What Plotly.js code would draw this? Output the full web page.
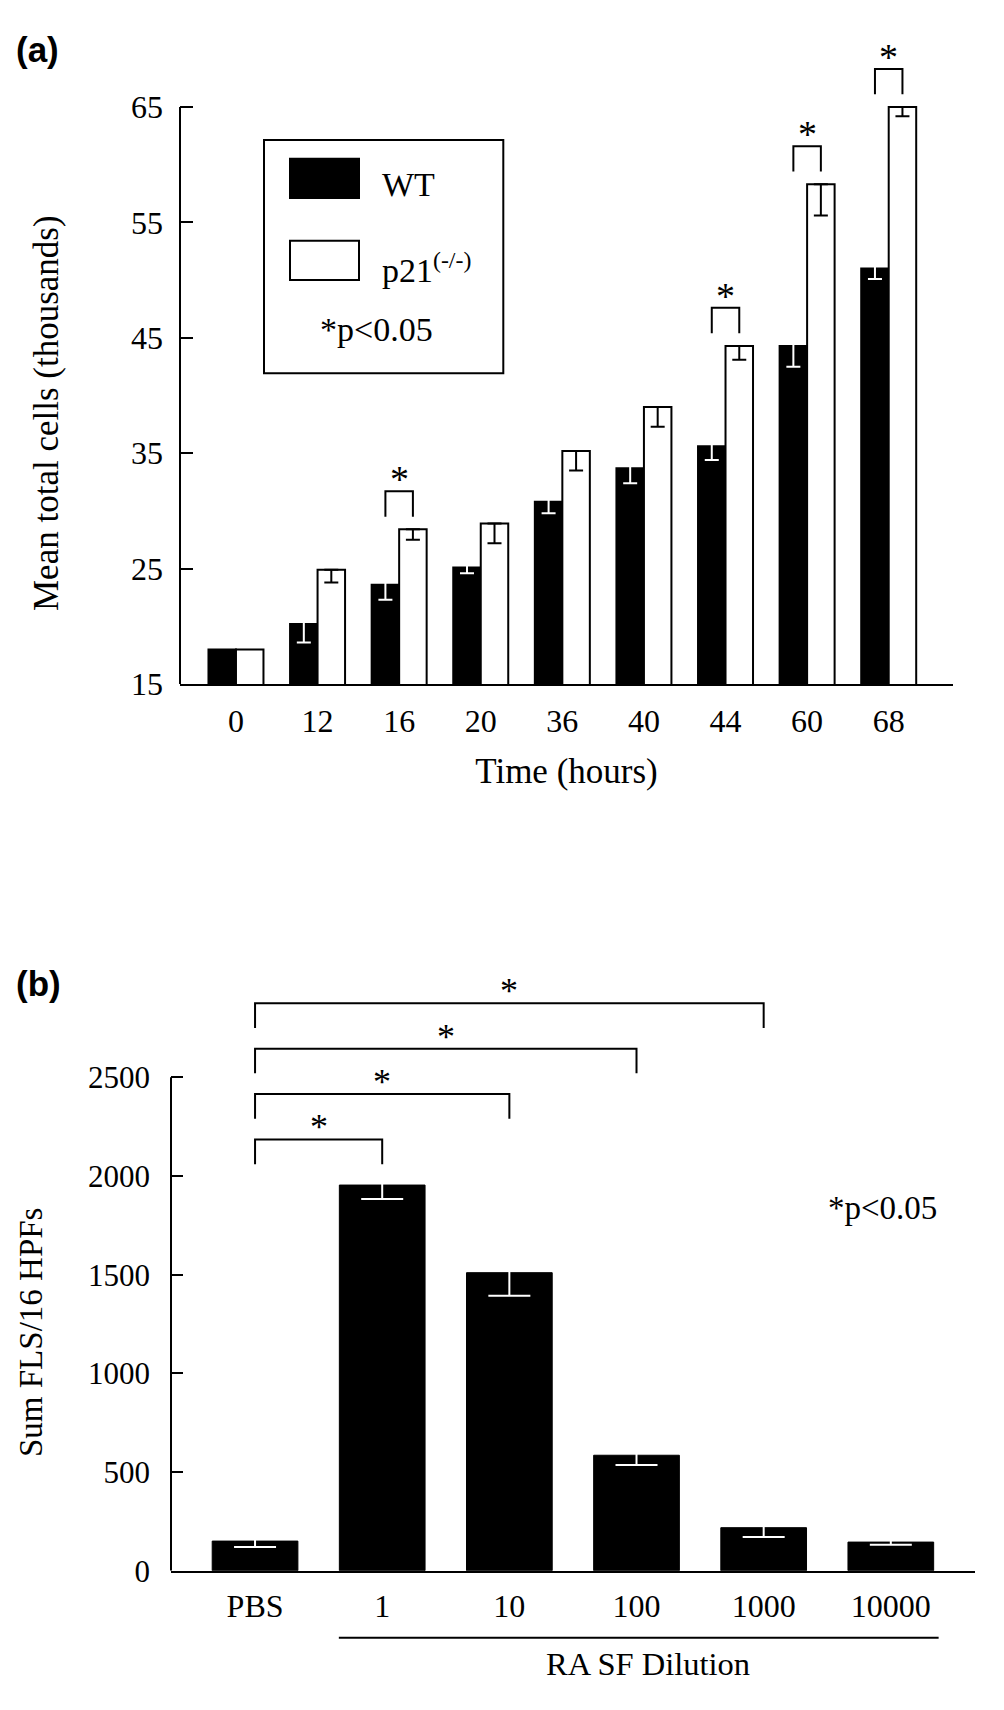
<!DOCTYPE html>
<html><head><meta charset="utf-8">
<script src="https://cdn.plot.ly/plotly-3.0.1.min.js"></script>
<style>html,body{margin:0;padding:0;background:#fff;} #chart{width:1004px;height:1710px;}</style>
</head><body><div id="chart"></div>
<script>
// ---------- Panel (a) data ----------
const timeLabels = ['0','12','16','20','36','40','44','60','68'];
const wtMean  = [18.0, 20.2, 23.6, 25.1, 30.8, 33.7, 35.6, 44.3, 51.0];
const wtErr   = [null, 1.6, 1.3, 0.5, 1.0, 1.3, 1.2, 1.8, 0.9];
const p21Mean = [18.0, 24.9, 28.4, 28.9, 35.2, 39.0, 44.3, 58.3, 65.0];
const p21Err  = [null, 1.1, 0.9, 1.7, 1.7, 1.7, 1.2, 2.7, 0.8];
const sigTimes = ['16','44','60','68'];
const yTicksA = [15,25,35,45,55,65];

// ---------- Panel (b) data ----------
const dilLabels = ['PBS','1','10','100','1000','10000'];
const flsSum = [150, 1954, 1510, 585, 218, 145];
const flsErr = [30, 71, 117, 50, 47, 13];
const sigDil = ['1','10','100','1000'];
const yTicksB = [0,500,1000,1500,2000,2500];

// ---------- geometry (pixels) ----------
const W = 1004, H = 1710;
const fx = p => p / W, fy = p => 1 - p / H;
const SERIF = 'Liberation Serif, Times New Roman, serif';
const SANS = 'Liberation Sans, Arial, sans-serif';

// panel a
const aL = 180, aR = 953, aBot = 684, aPer = (684 - 107) / 50;
const aRange = [15, 71];
const aTop = aBot - (aRange[1] - aRange[0]) * aPer;
const gapA = 0.326;
const halfBar = (1 - gapA) / 4; // offset of each bar center from group center
// panel b
const bL = 171, bR = 975, bBot = 1570.7, bPer = (1570.7 - 1077.3) / 2500;
const bRange = [0, 3050];
const bTop = bBot - (bRange[1] - bRange[0]) * bPer;
const gapB = 0.328;

// white error bars on black bars: lift the (white) cap just above the bar top so that only
// the downward part of the error bar is visible, as in the original figure
const hatLiftA = 3 / aPer, hatLiftB = 3 / bPer;
const nanOr = (e, v) => (e === null ? NaN : v);

const traces = [
  {type:'bar', x: timeLabels, y: wtMean, name:'WT', xaxis:'x', yaxis:'y',
   marker:{color:'#000', line:{color:'#000', width:2}},
   error_y:{type:'data', symmetric:false, array: wtErr.map(e=>nanOr(e,hatLiftA)), arrayminus: wtErr.map(e=>nanOr(e,e)),
            color:'#fff', thickness:2, width:7}},
  {type:'bar', x: timeLabels, y: p21Mean, name:'p21(-/-)', xaxis:'x', yaxis:'y',
   marker:{color:'#fff', line:{color:'#000', width:2}},
   error_y:{type:'data', symmetric:false, array: p21Err.map(e=>nanOr(e,0)), arrayminus: p21Err.map(e=>nanOr(e,e)),
            color:'#000', thickness:2, width:7}},
  {type:'bar', x: dilLabels, y: flsSum, name:'FLS', xaxis:'x2', yaxis:'y2',
   marker:{color:'#000', line:{color:'#000', width:1}},
   error_y:{type:'data', symmetric:false, array: flsErr.map(()=>hatLiftB), arrayminus: flsErr,
            color:'#fff', thickness:2, width:21}}
];

const shapes = [];
const annotations = [];
const blk = {color:'#000', width:2};

// y axis lines (only up to the last tick)
shapes.push({type:'line', xref:'x domain', yref:'y', x0:0, x1:0, y0:yTicksA[0], y1:yTicksA[yTicksA.length-1], line:blk});
shapes.push({type:'line', xref:'x2 domain', yref:'y2', x0:0, x1:0, y0:yTicksB[0], y1:yTicksB[yTicksB.length-1], line:blk});

// significance brackets (a)
sigTimes.forEach(t => {
  const i = timeLabels.indexOf(t);
  const top = Math.max(wtMean[i], p21Mean[i]);
  const y0 = top + 1.1, y1 = top + 3.3;
  const xa = i - halfBar, xb = i + halfBar;
  shapes.push({type:'path', xref:'x', yref:'y', path:`M${xa},${y0} L${xa},${y1} L${xb},${y1} L${xb},${y0}`, line:blk});
  annotations.push({xref:'x', yref:'y', x:i, y:y1, text:'*', showarrow:false, yanchor:'bottom', yshift:-11,
                    font:{family:SERIF, size:38, color:'#000'}});
});

// significance brackets (b)
sigDil.forEach((d, k) => {
  const i = dilLabels.indexOf(d);
  const y0 = 2060 + 230 * k, y1 = y0 + 125;
  shapes.push({type:'path', xref:'x2', yref:'y2', path:`M0,${y0} L0,${y1} L${i},${y1} L${i},${y0}`, line:blk});
  annotations.push({xref:'x2', yref:'y2', x:i/2, y:y1, text:'*', showarrow:false, yanchor:'bottom', yshift:-10,
                    font:{family:SERIF, size:36, color:'#000'}});
});

// RA SF dilution underline (below tick labels of groups 1..10000)
shapes.push({type:'line', xref:'x2', yref:'paper', x0: 1 - (1-gapB)/2 - 0.005, x1: dilLabels.length - 1 + (1-gapB)/2 + 0.04,
             y0: fy(1637.7), y1: fy(1637.7), line:{color:'#000', width:2}});

// legend box (a)
shapes.push({type:'rect', xref:'paper', yref:'paper', x0:fx(264), x1:fx(503.3), y0:fy(140), y1:fy(373.3), line:blk});
shapes.push({type:'rect', xref:'paper', yref:'paper', x0:fx(290), x1:fx(359), y0:fy(158.7), y1:fy(198), line:blk, fillcolor:'#000'});
shapes.push({type:'rect', xref:'paper', yref:'paper', x0:fx(290), x1:fx(359), y0:fy(240.7), y1:fy(280), line:blk, fillcolor:'#fff'});
annotations.push({xref:'paper', yref:'paper', x:fx(380), y:fy(184), xanchor:'left', yanchor:'middle', showarrow:false,
                  text:'WT', font:{family:SERIF, size:34, color:'#000'}});
annotations.push({xref:'paper', yref:'paper', x:fx(380), y:fy(268), xanchor:'left', yanchor:'middle', showarrow:false,
                  text:'p21<sup>(-/-)</sup>', font:{family:SERIF, size:34, color:'#000'}});
annotations.push({xref:'paper', yref:'paper', x:fx(376), y:fy(330), xanchor:'center', yanchor:'middle', showarrow:false,
                  text:'*p<0.05', font:{family:SERIF, size:34, color:'#000'}});

// p value note (b)
annotations.push({xref:'paper', yref:'paper', x:fx(882), y:fy(1208), xanchor:'center', yanchor:'middle', showarrow:false,
                  text:'*p<0.05', font:{family:SERIF, size:33, color:'#000'}});

// panel letters
annotations.push({xref:'paper', yref:'paper', x:fx(14), y:fy(50), xanchor:'left', yanchor:'middle', showarrow:false,
                  text:'<b>(a)</b>', font:{family:SANS, size:35, color:'#000'}});
annotations.push({xref:'paper', yref:'paper', x:fx(14), y:fy(983), xanchor:'left', yanchor:'middle', showarrow:false,
                  text:'<b>(b)</b>', font:{family:SANS, size:35, color:'#000'}});

// y axis titles and (b) x title
annotations.push({xref:'paper', yref:'paper', x:fx(47), y:fy(413), xanchor:'center', yanchor:'middle', showarrow:false, textangle:-90,
                  text:'Mean total cells (thousands)', font:{family:SERIF, size:35, color:'#000'}});
annotations.push({xref:'paper', yref:'paper', x:fx(31), y:fy(1333), xanchor:'center', yanchor:'middle', showarrow:false, textangle:-90,
                  text:'Sum FLS/16 HPFs', font:{family:SERIF, size:33, color:'#000'}});
annotations.push({xref:'paper', yref:'paper', x:fx(647.5), y:fy(1664), xanchor:'center', yanchor:'middle', showarrow:false,
                  text:'RA SF Dilution', font:{family:SERIF, size:32.5, color:'#000'}});

const tickFont = {family:SERIF, size:32, color:'#000'};
const layout = {
  width: W, height: H, margin:{l:0, r:0, t:0, b:0},
  paper_bgcolor:'#fff', plot_bgcolor:'rgba(0,0,0,0)', showlegend:false,
  barmode:'group', bargap: gapA, bargroupgap: 0,
  font:{family:SERIF, color:'#000'},
  xaxis:{domain:[fx(aL), fx(aR)], anchor:'y', type:'category', range:[-0.686, 8.788],
         showline:true, linecolor:'#000', linewidth:2, ticks:'', showgrid:false, zeroline:false,
         tickfont:tickFont, ticklabelstandoff:8,
         title:{text:'Time (hours)', font:{family:SERIF, size:35, color:'#000'}, standoff:20}},
  yaxis:{domain:[fy(aBot), fy(aTop)], anchor:'x', range:aRange, tickvals:yTicksA, ticktext:yTicksA.map(String),
         showline:false, ticks:'inside', ticklen:13, tickwidth:2, tickcolor:'#000',
         showgrid:false, zeroline:false, tickfont:tickFont, ticklabelstandoff:16},
  xaxis2:{domain:[fx(bL), fx(bR)], anchor:'y2', type:'category', range:[-0.661, 5.662],
          showline:true, linecolor:'#000', linewidth:2, ticks:'', showgrid:false, zeroline:false,
          tickfont:tickFont, ticklabelstandoff:6},
  yaxis2:{domain:[fy(bBot), fy(bTop)], anchor:'x2', range:bRange, tickvals:yTicksB, ticktext:yTicksB.map(String),
          showline:false, ticks:'inside', ticklen:12, tickwidth:2, tickcolor:'#000',
          showgrid:false, zeroline:false, tickfont:{family:SERIF, size:31, color:'#000'}, ticklabelstandoff:20},
  shapes: shapes, annotations: annotations
};

Plotly.newPlot('chart', traces, layout, {staticPlot:true, displayModeBar:false});
</script></body></html>
